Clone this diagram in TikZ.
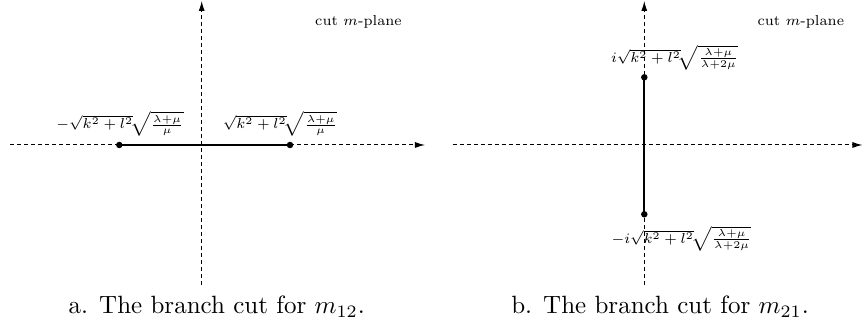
\documentclass[tikz,border=0pt]{standalone}
\usetikzlibrary{arrows.meta}
\begin{document}
\begin{tikzpicture}[x=0.4pt,y=-0.4pt,
  axis/.style={dash pattern=on 1.6pt off 1.2pt, line width=0.4pt, -{Latex[length=4pt,width=2.4pt]}},
  cutline/.style={line width=0.9pt},
  dotmark/.style={circle, fill, inner sep=0pt, minimum size=2.6pt},
  lbl/.style={font=\scriptsize, inner sep=0pt, scale=0.82},
  captext/.style={anchor=base, inner sep=0pt}]
\useasboundingbox (0,0) rectangle (863,325);
% panel a
\coordinate (aL) at (10,145);
\coordinate (aR) at (425,145);
\coordinate (aB) at (201.7,285);
\coordinate (aT) at (201.7,1);
\draw[axis] (aL) -- (aR);
\draw[axis] (aB) -- (aT);
\node[dotmark] (a1) at (119.3,145) {};
\node[dotmark] (a2) at (290,145) {};
\draw[cutline] (a1.center) -- (a2.center);
\node[lbl] (la1) at (120,124) {$-\sqrt{k^2+l^2}\!\sqrt{\frac{\lambda+\mu}{\mu}}$};
\node[lbl] (la2) at (280,124) {$\sqrt{k^2+l^2}\!\sqrt{\frac{\lambda+\mu}{\mu}}$};
\node[lbl] (pa) at (358.5,21.7) {cut $m$-plane};
\node[captext] (capa) at (216.7,314) {a. The branch cut for $m_{12}$.};
% panel b
\coordinate (bL) at (452.7,145);
\coordinate (bR) at (862.5,145);
\coordinate (bB) at (644.3,285);
\coordinate (bT) at (644.3,1);
\draw[axis] (bL) -- (bR);
\draw[axis] (bB) -- (bT);
\node[dotmark] (b1) at (644.3,77.3) {};
\node[dotmark] (b2) at (644.3,214.3) {};
\draw[cutline] (b1.center) -- (b2.center);
\node[lbl] (lb1) at (674.7,57.5) {$i\sqrt{k^2+l^2}\!\sqrt{\frac{\lambda+\mu}{\lambda+2\mu}}$};
\node[lbl] (lb2) at (681.5,238.5) {$-i\sqrt{k^2+l^2}\!\sqrt{\frac{\lambda+\mu}{\lambda+2\mu}}$};
\node[lbl] (pb) at (800.8,21.7) {cut $m$-plane};
\node[captext] (capb) at (660,314) {b. The branch cut for $m_{21}$.};
\end{tikzpicture}
\end{document}
